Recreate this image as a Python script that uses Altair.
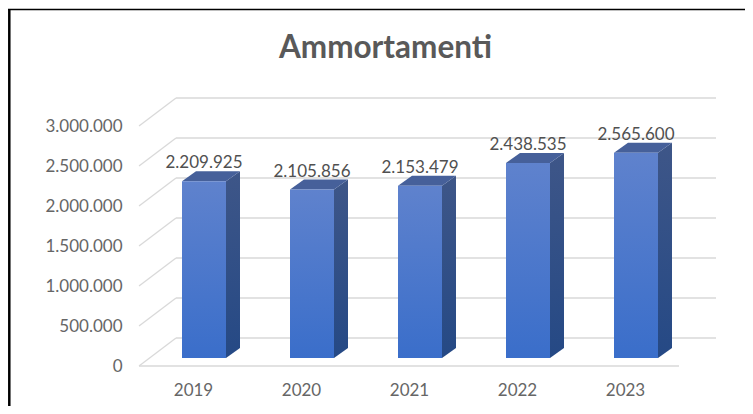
import altair as alt
import pandas as pd

years = [2019, 2020, 2021, 2022, 2023]
values = [2209925, 2105856, 2153479, 2438535, 2565600]
value_labels = ["2.209.925", "2.105.856", "2.153.479", "2.438.535", "2.565.600"]
grid_values = [0, 500000, 1000000, 1500000, 2000000, 2500000, 3000000]

# depth geometry, in data units of the two scales
PX_X = 1 / 108
PX_Y = 12500
wall_dx, wall_dy = 37 * PX_X, 28 * PX_Y
bar_shift, bar_half = 11 * PX_X, 22 * PX_X
side_dx, side_dy = 14 * PX_X, 10 * PX_Y
bar_base = 8 * PX_Y
x_left = 2018.5
x_front_end = x_left + 5
x_right = x_front_end + wall_dx
y_top = 3000000 + wall_dy

x_scale = alt.Scale(domain=[x_left, x_right], nice=False, zero=False)
y_scale = alt.Scale(domain=[0, y_top], nice=False, zero=False)
X = lambda f, **k: alt.X(f, type="quantitative", scale=x_scale, title=None, **k)
Y = lambda f, **k: alt.Y(f, type="quantitative", scale=y_scale, title=None, **k)


def vgrad(top, bottom):
    return alt.Gradient(
        gradient="linear", x1=0, x2=0, y1=0, y2=1,
        stops=[alt.GradientStop(color=top, offset=0), alt.GradientStop(color=bottom, offset=1)],
    )


GRID = "#d9d9d9"
TEXT = "#666666"
FONT = "Lato"

back = pd.DataFrame({"v": [v + wall_dy for v in grid_values], "a": x_left + wall_dx, "b": x_right})
slant = pd.DataFrame(
    [{"g": v, "x": x_left, "y": v} for v in grid_values]
    + [{"g": v, "x": x_left + wall_dx, "y": v + wall_dy} for v in grid_values]
)
floor = pd.DataFrame({"v": [0], "a": [x_left], "b": [x_front_end]})

front = pd.DataFrame({
    "l": [y + bar_shift - bar_half for y in years],
    "r": [y + bar_shift + bar_half for y in years],
    "top": [v + bar_base for v in values],
    "base": bar_base,
})
side = pd.DataFrame(
    [{"year": y, "x": y + bar_shift + bar_half + k * side_dx, "t": v + bar_base + k * side_dy,
      "b": bar_base + k * side_dy} for y, v in zip(years, values) for k in (0, 1)]
)
roof = pd.DataFrame(
    [{"year": y, "a": y + bar_shift - bar_half + k * side_dx, "c": y + bar_shift + bar_half + k * side_dx,
      "y": v + bar_base + k * side_dy} for y, v in zip(years, values) for k in (0, 1)]
)
labels = pd.DataFrame({
    "x": [y + bar_shift for y in years],
    "y": [v + bar_base + side_dy for v in values],
    "t": value_labels,
})
axis_df = pd.DataFrame({"x": years, "y": [0] * 5})

axes = alt.Chart(axis_df).mark_point(opacity=0).encode(
    x=X("x", axis=alt.Axis(values=years, format="d", domain=False, ticks=False, grid=False,
                           labelFont=FONT, labelFontSize=17, labelColor=TEXT, labelPadding=16,
                           labelFontWeight="normal")),
    y=Y("y", axis=alt.Axis(values=grid_values, domain=False, ticks=False, grid=False,
                           labelExpr="replace(format(datum.value, ','), /,/g, '.')",
                           labelFont=FONT, labelFontSize=17, labelColor=TEXT, labelPadding=17)),
)
back_lines = alt.Chart(back).mark_rule(color=GRID, strokeWidth=1.3).encode(x=X("a"), x2="b", y=Y("v"))
slant_lines = alt.Chart(slant).mark_line(color=GRID, strokeWidth=1.3).encode(x=X("x"), y=Y("y"), detail="g:N")
floor_line = alt.Chart(floor).mark_rule(color=GRID, strokeWidth=1.3).encode(x=X("a"), x2="b", y=Y("v"))

side_marks = alt.Chart(side).mark_area(orient="vertical", color=vgrad("#3e5688", "#254985")).encode(
    x=X("x"), y=Y("t"), y2="b", detail="year:N")
roof_marks = alt.Chart(roof).mark_area(orient="horizontal", color="#46609a").encode(
    y=Y("y"), x=X("a"), x2="c", detail="year:N")
front_marks = alt.Chart(front).mark_rect(color=vgrad("#5f82cd", "#3a6eca")).encode(
    x=X("l"), x2="r", y=Y("top"), y2="base")
text_marks = alt.Chart(labels).mark_text(font=FONT, fontSize=17, color="#505050", baseline="middle", dy=-8).encode(
    x=X("x"), y=Y("y"), text="t:N")

frame_left = alt.Chart(axis_df.head(1)).mark_rule(color="#000000", strokeWidth=2.5, clip=False).encode(
    x=alt.value(-129.7), y=alt.value(-89), y2=alt.value(308))
frame_top = alt.Chart(axis_df.head(1)).mark_rule(color="#000000", strokeWidth=1.5, clip=False).encode(
    x=alt.value(-131), x2=alt.value(606), y=alt.value(-88.5))

chart = alt.layer(
    axes, back_lines, slant_lines, floor_line, side_marks, roof_marks, front_marks, text_marks,
    frame_left, frame_top,
).properties(
    width=577, height=268,
    autosize=alt.AutoSizeParams(type="none"),
    padding={"left": 131, "top": 90, "right": 29, "bottom": 40},
    title=alt.TitleParams("Ammortamenti", font=FONT, fontSize=31.5, fontWeight="bold", color="#595959",
                          anchor="middle", frame="group", dx=-42, offset=-57),
    background="#ffffff",
).configure_view(stroke=None)

chart.save("out.html", embed_options={"renderer": "svg", "actions": False})
